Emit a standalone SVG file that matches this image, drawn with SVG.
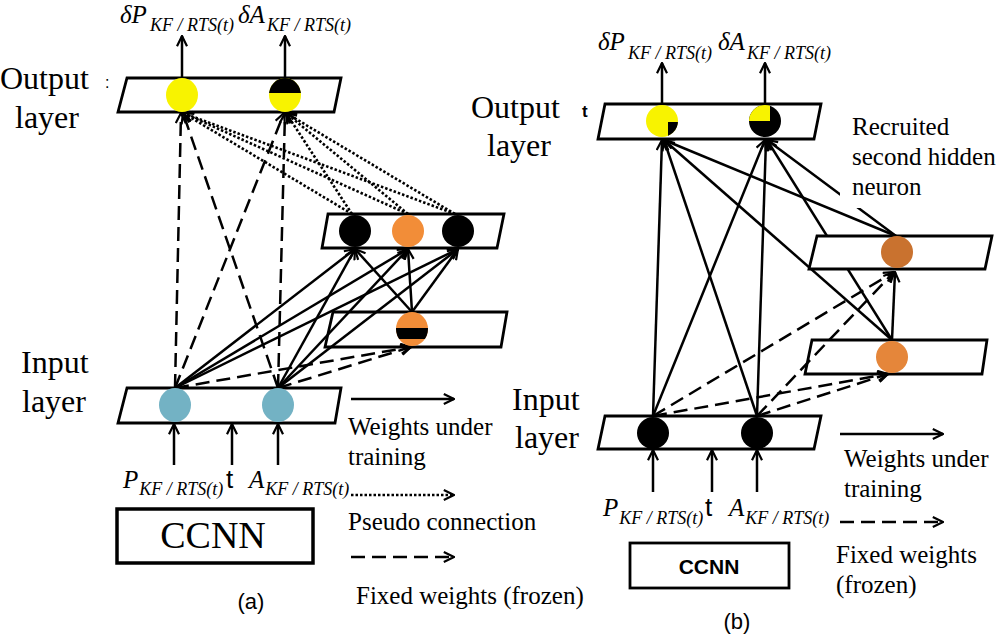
<svg xmlns="http://www.w3.org/2000/svg" width="1000" height="637" viewBox="0 0 1000 637">
<defs>
<marker id="ah" viewBox="0 0 12 12" refX="11" refY="6" markerWidth="12" markerHeight="12" markerUnits="userSpaceOnUse" orient="auto">
<path d="M0.8,1 L11,6 L0.8,11" fill="none" stroke="#000" stroke-width="2.2"/>
</marker>
<clipPath id="cOPb"><circle cx="662" cy="121" r="16"/></clipPath>
<clipPath id="cOAb"><circle cx="765" cy="121" r="16"/></clipPath>
<clipPath id="cOAa"><ellipse cx="285" cy="95" rx="16" ry="17"/></clipPath>
<clipPath id="cH2a"><ellipse cx="412" cy="329" rx="16" ry="17"/></clipPath>
</defs>
<style>
.box{fill:none;stroke:#000;stroke-width:2.8}
.wbox{fill:#fff;stroke:#000;stroke-width:2.8}
.s{stroke:#000;stroke-width:2.5;fill:none;marker-end:url(#ah)}
.d{stroke:#000;stroke-width:2.5;fill:none;stroke-dasharray:14 7;marker-end:url(#ah)}
.o{stroke:#000;stroke-width:2.6;fill:none;stroke-dasharray:2.5 2;marker-end:url(#ah)}
.lbl{font-family:"Liberation Serif","Times New Roman",serif;font-size:32px;fill:#000}
.big{font-family:"Liberation Serif","Times New Roman",serif;font-size:38px;fill:#000}
.leg{font-family:"Liberation Serif","Times New Roman",serif;font-size:25px;fill:#000}
.m{font-family:"Liberation Serif","Times New Roman",serif;font-style:italic;font-size:25px;fill:#000}
.sub{font-size:18px}
.sans{font-family:"Liberation Sans",Arial,sans-serif;fill:#000}
</style>

<!-- ===== Panel (a) ===== -->
<g id="connectors-a">
<line class="d" x1="175" y1="388" x2="181" y2="113"/>
<line class="d" x1="175" y1="388" x2="284" y2="113"/>
<line class="d" x1="278" y1="388" x2="183" y2="113"/>
<line class="d" x1="278" y1="388" x2="285" y2="113"/>
<line class="o" x1="352" y1="214" x2="183" y2="113"/>
<line class="o" x1="352" y1="214" x2="286" y2="113"/>
<line class="o" x1="408" y1="214" x2="183" y2="113"/>
<line class="o" x1="408" y1="214" x2="286" y2="113"/>
<line class="o" x1="455" y1="214" x2="183" y2="113"/>
<line class="o" x1="455" y1="214" x2="286" y2="113"/>
<line class="s" x1="175" y1="388" x2="355" y2="249"/>
<line class="s" x1="175" y1="388" x2="408" y2="249"/>
<line class="s" x1="175" y1="388" x2="458" y2="249"/>
<line class="s" x1="278" y1="388" x2="355" y2="249"/>
<line class="s" x1="278" y1="388" x2="408" y2="249"/>
<line class="s" x1="278" y1="388" x2="458" y2="249"/>
<line class="s" x1="412" y1="312" x2="355" y2="249"/>
<line class="s" x1="412" y1="312" x2="408" y2="249"/>
<line class="s" x1="412" y1="312" x2="458" y2="249"/>
<line class="d" x1="175" y1="388" x2="411" y2="347"/>
<line class="d" x1="278" y1="388" x2="411" y2="347"/>
<line class="s" x1="174" y1="465" x2="174" y2="424"/>
<line class="s" x1="232" y1="465" x2="232" y2="424"/>
<line class="s" x1="278" y1="465" x2="278" y2="424"/>
<line class="s" x1="182" y1="78" x2="182" y2="36"/>
<line class="s" x1="285" y1="78" x2="285" y2="36"/>
</g>

<g id="output-layer-a">
<polygon class="box" points="127,78 341,78 334,112 118,112"/>
<ellipse cx="182" cy="95" rx="16" ry="17" fill="#F8F300"/>
<ellipse cx="285" cy="95" rx="16" ry="17" fill="#F8F300"/>
<rect x="265" y="76" width="40" height="17" fill="#000" clip-path="url(#cOAa)"/>
<text class="lbl" x="0" y="89">Output</text>
<text class="sans" x="105" y="88" font-size="16">:</text>
<text class="lbl" x="15" y="128">layer</text>
</g>

<g id="hidden-layer1-a">
<polygon class="box" points="328,214 504,214 497,248 322,248"/>
<circle cx="355" cy="231" r="16" fill="#000"/>
<circle cx="408" cy="231" r="16" fill="#F28D38"/>
<circle cx="458" cy="231" r="16" fill="#000"/>
</g>

<g id="hidden-layer2-a">
<polygon class="box" points="333,312 507,312 501,347 325,347"/>
<ellipse cx="412" cy="329" rx="16" ry="17" fill="#F28D38"/>
<rect x="394" y="328" width="36" height="11" fill="#000" clip-path="url(#cH2a)"/>
</g>

<g id="input-layer-a">
<polygon class="box" points="127,388 341,388 335,423 118,423"/>
<ellipse cx="175" cy="405" rx="16" ry="17" fill="#73B2C4"/>
<ellipse cx="278" cy="405" rx="16" ry="17" fill="#73B2C4"/>
<text class="lbl" x="21" y="373">Input</text>
<text class="lbl" x="22" y="412">layer</text>
</g>

<g id="labels-a">
<text class="m" x="120" y="23">δP<tspan class="sub" dx="3" dy="8">KF / RTS(t)</tspan></text>
<text class="m" x="238" y="23">δA<tspan class="sub" dx="2" dy="8">KF / RTS(t)</tspan></text>
<text class="m" x="123" y="488">P<tspan class="sub" dx="1" dy="7">KF / RTS(t)</tspan></text>
<text class="sans" x="226" y="488" font-size="26">t</text>
<text class="m" x="249" y="488">A<tspan class="sub" dx="1" dy="7">KF / RTS(t)</tspan></text>
</g>

<g id="ccnn-a">
<rect x="117" y="509" width="196" height="54" fill="none" stroke="#000" stroke-width="3.5"/>
<text class="big" x="213" y="548" text-anchor="middle">CCNN</text>
</g>

<g id="legend-a">
<line class="s" x1="351" y1="399" x2="454" y2="399"/>
<text class="leg" x="348" y="435">Weights under</text>
<text class="leg" x="348" y="465">training</text>
<line class="o" x1="351" y1="495" x2="454" y2="495"/>
<text class="leg" x="348" y="530">Pseudo connection</text>
<line class="d" x1="351" y1="557" x2="454" y2="557"/>
<text class="leg" x="356" y="604">Fixed weights (frozen)</text>
<text class="sans" x="251" y="609" font-size="22" text-anchor="middle">(a)</text>
</g>

<!-- ===== Panel (b) ===== -->
<g id="connectors-b">
<line class="s" x1="653" y1="416" x2="662" y2="140"/>
<line class="s" x1="653" y1="416" x2="765" y2="140"/>
<line class="s" x1="757" y1="416" x2="664" y2="140"/>
<line class="s" x1="757" y1="416" x2="766" y2="140"/>
<line class="s" x1="892" y1="340" x2="664" y2="140"/>
<line class="s" x1="892" y1="340" x2="767" y2="140"/>
<line class="s" x1="892" y1="340" x2="895" y2="272"/>
<line class="s" x1="896" y1="236" x2="664" y2="140"/>
<line class="s" x1="896" y1="236" x2="767" y2="140"/>
<line class="d" x1="653" y1="416" x2="894" y2="272"/>
<line class="d" x1="757" y1="416" x2="894" y2="272"/>
<line class="d" x1="653" y1="416" x2="888" y2="374"/>
<line class="d" x1="757" y1="416" x2="888" y2="374"/>
<line class="s" x1="653" y1="492" x2="653" y2="450"/>
<line class="s" x1="712" y1="492" x2="712" y2="450"/>
<line class="s" x1="757" y1="492" x2="757" y2="450"/>
<line class="s" x1="662" y1="104" x2="662" y2="63"/>
<line class="s" x1="765" y1="104" x2="765" y2="63"/>
</g>

<g id="output-layer-b">
<polygon class="box" points="605,104 821,104 814,139 598,139"/>
<circle cx="662" cy="121" r="16" fill="#F8F300"/>
<rect x="668" y="122" width="12" height="18" fill="#000" clip-path="url(#cOPb)"/>
<circle cx="765" cy="121" r="16" fill="#000"/>
<rect x="745" y="102" width="25" height="19" fill="#F8F300" clip-path="url(#cOAb)"/>
<text class="lbl" x="471" y="118">Output</text>
<text class="sans" x="582" y="117" font-size="17" font-weight="bold">t</text>
<text class="lbl" x="487" y="156">layer</text>
</g>

<g id="hidden-recruited-b">
<polygon class="wbox" points="817,236 992,236 985,269 809,269"/>
<circle cx="897" cy="252" r="16" fill="#C9722F"/>
<rect x="840" y="110" width="160" height="98" fill="#fff"/>
<text class="leg" x="852" y="135">Recruited</text>
<text class="leg" x="852" y="165">second hidden</text>
<text class="leg" x="852" y="195">neuron</text>
</g>

<g id="hidden-first-b">
<polygon class="box" points="812,340 987,340 982,374 805,374"/>
<circle cx="892" cy="357" r="16" fill="#E5863A"/>
</g>

<g id="input-layer-b">
<polygon class="box" points="605,416 821,416 814,449 598,449"/>
<circle cx="653" cy="433" r="16" fill="#000"/>
<circle cx="757" cy="433" r="16" fill="#000"/>
<text class="lbl" x="512" y="410">Input</text>
<text class="lbl" x="515" y="448">layer</text>
</g>

<g id="labels-b">
<text class="m" x="598" y="50">δP<tspan class="sub" dx="3" dy="9">KF / RTS(t)</tspan></text>
<text class="m" x="718" y="50">δA<tspan class="sub" dx="2" dy="9">KF / RTS(t)</tspan></text>
<text class="m" x="603" y="516">P<tspan class="sub" dx="1" dy="8">KF / RTS(t)</tspan></text>
<text class="sans" x="705" y="516" font-size="26">t</text>
<text class="m" x="729" y="516">A<tspan class="sub" dx="1" dy="8">KF / RTS(t)</tspan></text>
</g>

<g id="ccnn-b">
<rect x="630" y="543" width="159" height="45" fill="none" stroke="#000" stroke-width="2.8"/>
<text class="sans" x="709" y="574" text-anchor="middle" font-size="21" font-weight="bold">CCNN</text>
</g>

<g id="legend-b">
<line class="s" x1="840" y1="434" x2="943" y2="434"/>
<text class="leg" x="844" y="467">Weights under</text>
<text class="leg" x="844" y="497">training</text>
<line class="d" x1="840" y1="522" x2="943" y2="522"/>
<text class="leg" x="836" y="563">Fixed weights</text>
<text class="leg" x="836" y="593">(frozen)</text>
<text class="sans" x="737" y="629" font-size="22" text-anchor="middle">(b)</text>
</g>
</svg>
